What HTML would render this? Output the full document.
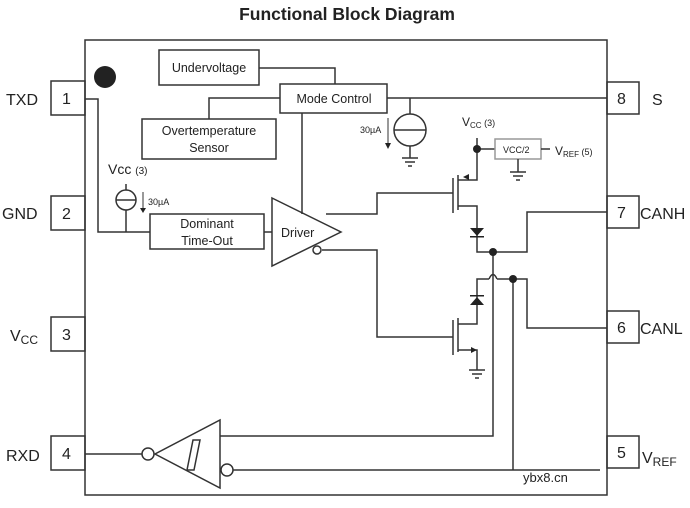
<!DOCTYPE html><html><head><style>body{margin:0;background:#fff}svg{display:block}text{font-family:"Liberation Sans",sans-serif;fill:#222}</style></head><body>
<svg width="690" height="508" viewBox="0 0 690 508" xmlns="http://www.w3.org/2000/svg">
<g fill="none" stroke="#333" stroke-width="1.5">
<rect x="85" y="40" width="522" height="455"/>
<rect x="51" y="81" width="34" height="34"/><rect x="51" y="196" width="34" height="34"/>
<rect x="51" y="317" width="34" height="34"/><rect x="51" y="436" width="34" height="34"/>
<rect x="607" y="82" width="32" height="32"/><rect x="607" y="196" width="32" height="32"/>
<rect x="607" y="311" width="32" height="32"/><rect x="607" y="436" width="32" height="32"/>
<rect x="159" y="50" width="100" height="35"/>
<rect x="280" y="84" width="107" height="29"/>
<rect x="142" y="119" width="134" height="40"/>
<rect x="150" y="214" width="114" height="35"/>
<polygon points="272,198 341,232 272,266"/>
<circle cx="317" cy="250" r="4"/>
<path d="M85 99H98V232H150M264 232H272"/>
<path d="M126 184V190M126 210V232"/><circle cx="126" cy="200" r="10"/><path d="M116 200H136"/>
<path d="M259 68H335V84M209 119V98H280M302 113V214"/>
<path d="M387 98H607M410 98V114M410 146V158"/><circle cx="410" cy="130" r="16"/><path d="M394 130H426"/>
<path d="M402 158H418M405 162H415M408 166H412"/>
<path d="M326 214H377V193H453M453 178V213M458 175V210M458 180H477V138M477 149H495"/>
<rect x="495" y="139" width="46" height="20" stroke="#999"/>
<path d="M541 149H550M518 159V172M510 172H526M513 176H523M516 180H520"/>
<path d="M458 206H477V252H527V212H607"/>
<path d="M322 250H377V337H453M453 320V355M458 318V352M458 324H477V279H489M489 279Q493 270 497 279M497 279H527V328H607"/>
<path d="M458 350H477V370M469 370H485M472 374H482M475 378H479"/>
<path d="M493 252V436H220M513 279V470"/>
<polygon points="220,420 220,488 155,454"/><circle cx="148" cy="454" r="6"/><circle cx="227" cy="470" r="6"/>
<path d="M85 454H142M233 470H600"/>
<path d="M187 470L193 440H200L194 470H187"/>
</g>
<g fill="#222">
<circle cx="105" cy="77" r="11"/>
<circle cx="477" cy="149" r="4"/><circle cx="493" cy="252" r="4"/><circle cx="513" cy="279" r="4"/>
<polygon points="470,228 484,228 477,236"/><rect x="470" y="236" width="14" height="1.5"/>
<polygon points="470,305 484,305 477,297"/><rect x="470" y="295" width="14" height="1.5"/>
<polygon points="463,177 469,174 469,180"/><polygon points="477,350 471,347 471,353"/>
<polygon points="140,208 146,208 143,213"/><polygon points="385,143 391,143 388,149"/>
</g>
<path d="M143 192V208M388 118V143" stroke="#333"/>
<text x="347" y="20" font-size="17.5" font-weight="bold" text-anchor="middle">Functional Block Diagram</text>
<g font-size="16"><text x="6" y="105">TXD</text><text x="2" y="219">GND</text><text x="10" y="341">V<tspan font-size="12" dy="3">CC</tspan></text><text x="6" y="461">RXD</text>
<text x="62" y="104">1</text><text x="62" y="219">2</text><text x="62" y="340">3</text><text x="62" y="459">4</text>
<text x="617" y="104">8</text><text x="617" y="218">7</text><text x="617" y="333">6</text><text x="617" y="458">5</text>
<text x="652" y="105">S</text><text x="640" y="219">CANH</text><text x="640" y="334">CANL</text><text x="642" y="463">V<tspan font-size="12" dy="3">REF</tspan></text></g>
<g font-size="12.5"><text x="209" y="72" text-anchor="middle">Undervoltage</text><text x="334" y="103" text-anchor="middle">Mode Control</text>
<text x="209" y="135" text-anchor="middle">Overtemperature</text><text x="209" y="152" text-anchor="middle">Sensor</text>
<text x="207" y="228" text-anchor="middle">Dominant</text><text x="207" y="245" text-anchor="middle">Time-Out</text>
<text x="281" y="237">Driver</text><text x="108" y="174" font-size="14">Vcc <tspan font-size="10">(3)</tspan></text></g>
<g font-size="9"><text x="148" y="205">30µA</text><text x="360" y="133">30µA</text><text x="503" y="153">VCC/2</text></g>
<text x="462" y="126" font-size="12">V<tspan font-size="8" dy="2">CC</tspan><tspan font-size="9" dy="-2"> (3)</tspan></text>
<text x="555" y="155" font-size="12">V<tspan font-size="8" dy="2">REF</tspan><tspan font-size="9" dy="-2"> (5)</tspan></text>
<text x="523" y="482" font-size="13" font-family="Liberation Mono">ybx8.cn</text>
</svg></body></html>
